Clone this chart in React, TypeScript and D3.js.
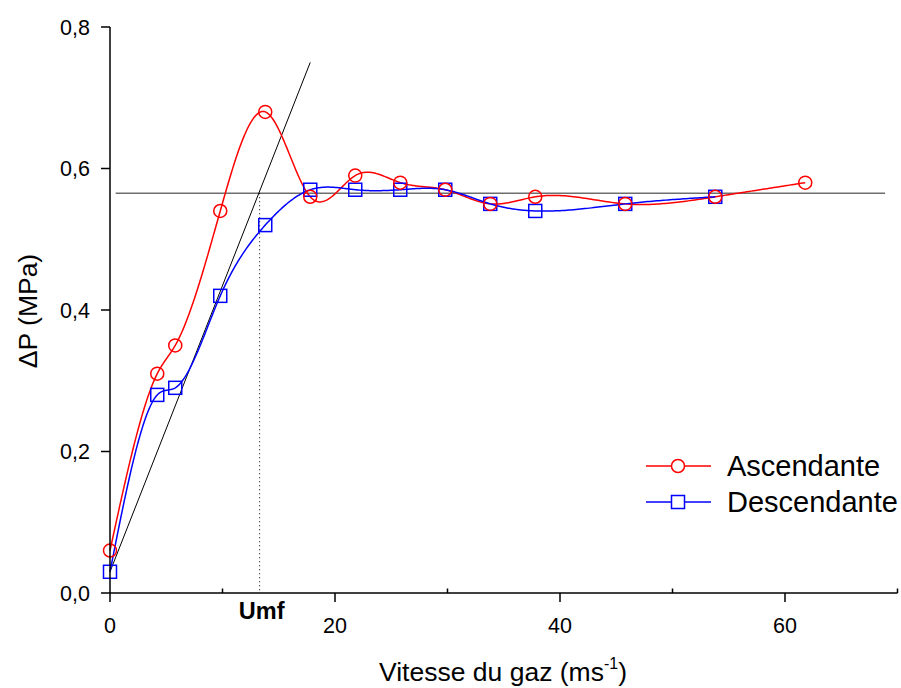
import React from 'react';
import * as d3 from 'd3';

const velocityAsc = [0, 4.2, 5.8, 9.8, 13.8, 17.8, 21.8, 25.8, 29.8, 33.8, 37.8, 45.8, 53.8, 61.8];
const ascendante = [0.06, 0.31, 0.35, 0.54, 0.68, 0.56, 0.59, 0.58, 0.57, 0.55, 0.56, 0.55, 0.56, 0.58];
const velocityDesc = [0, 4.2, 5.8, 9.8, 13.8, 17.8, 21.8, 25.8, 29.8, 33.8, 37.8, 45.8, 53.8];
const descendante = [0.03, 0.28, 0.29, 0.42, 0.52, 0.57, 0.57, 0.57, 0.57, 0.55, 0.54, 0.55, 0.56];

const xMajorTicks = [0, 20, 40, 60];
const xMinorTicks = [10, 30, 50, 70];
const yTicks = [0, 0.2, 0.4, 0.6, 0.8];
const yTickLabels = ['0,0', '0,2', '0,4', '0,6', '0,8'];

const plateauY = 0.565;
const plateauX = [0.5, 68.9];
const umfX = 13.3;
const tangentX = [0, 17.8];
const tangentY = [0.03, 0.75];

const legendLabels = ['Ascendante', 'Descendante'];

const W = 901;
const H = 688;
const FONT = "'Liberation Sans', Arial, Helvetica, sans-serif";

function naturalSpline(xs: number[], ys: number[]) {
  const n = xs.length;
  const h: number[] = [];
  for (let i = 0; i < n - 1; i++) h.push(xs[i + 1] - xs[i]);
  const a: number[] = new Array(n).fill(0);
  const b: number[] = new Array(n).fill(0);
  const c: number[] = new Array(n).fill(0);
  const r: number[] = new Array(n).fill(0);
  b[0] = 1; b[n - 1] = 1;
  for (let i = 1; i < n - 1; i++) {
    a[i] = h[i - 1];
    b[i] = 2 * (h[i - 1] + h[i]);
    c[i] = h[i];
    r[i] = 6 * ((ys[i + 1] - ys[i]) / h[i] - (ys[i] - ys[i - 1]) / h[i - 1]);
  }
  const cp = new Array(n).fill(0);
  const rp = new Array(n).fill(0);
  cp[0] = c[0] / b[0];
  rp[0] = r[0] / b[0];
  for (let i = 1; i < n; i++) {
    const m = b[i] - a[i] * cp[i - 1];
    cp[i] = c[i] / m;
    rp[i] = (r[i] - a[i] * rp[i - 1]) / m;
  }
  const M = new Array(n).fill(0);
  M[n - 1] = rp[n - 1];
  for (let i = n - 2; i >= 0; i--) M[i] = rp[i] - cp[i] * M[i + 1];
  const pts: [number, number][] = [];
  for (let i = 0; i < n - 1; i++) {
    const steps = 40;
    for (let s = 0; s < steps; s++) {
      const t = xs[i] + (h[i] * s) / steps;
      const A = (xs[i + 1] - t) / h[i];
      const B = (t - xs[i]) / h[i];
      const yv = A * ys[i] + B * ys[i + 1] + ((A * A * A - A) * M[i] + (B * B * B - B) * M[i + 1]) * (h[i] * h[i]) / 6;
      pts.push([t, yv]);
    }
  }
  pts.push([xs[n - 1], ys[n - 1]]);
  return pts;
}

export default function App() {
  const x = d3.scaleLinear().domain([0, 70]).range([110, 897.5]);
  const y = d3.scaleLinear().domain([0, 0.8]).range([593, 27]);
  const line = d3.line<[number, number]>().x(d => x(d[0])).y(d => y(d[1]));

  const ascPts = naturalSpline(velocityAsc, ascendante);
  const descPts = naturalSpline(velocityDesc, descendante);
  const red = '#ff0000';
  const blue = '#0000ff';
  const sq = 13;
  const cr = 6.5;

  return (
    <svg width={W} height={H} style={{ position: 'absolute', left: 0, top: 0, background: '#fff' }} fontFamily={FONT}>
      <rect x={0} y={0} width={W} height={H} fill="#fff" />
      <line x1={x(plateauX[0])} x2={x(plateauX[1])} y1={y(plateauY)} y2={y(plateauY)} stroke="#6e6e6e" strokeWidth={1.6} />
      <line x1={x(tangentX[0])} y1={y(tangentY[0])} x2={x(tangentX[1])} y2={y(tangentY[1])} stroke="#000" strokeWidth={1} />
      <line x1={x(umfX)} x2={x(umfX)} y1={y(plateauY)} y2={y(0)} stroke="#000" strokeWidth={1} strokeDasharray="1,3" />

      <path d={line(ascPts) || ''} fill="none" stroke={red} strokeWidth={1.5} />
      <path d={line(descPts) || ''} fill="none" stroke={blue} strokeWidth={1.5} />

      {velocityDesc.map((v, i) => (
        <rect key={'d' + i} x={x(v) - sq / 2} y={y(descendante[i]) - sq / 2} width={sq} height={sq} fill="none" stroke={blue} strokeWidth={1.5} />
      ))}
      {velocityAsc.map((v, i) => (
        <circle key={'a' + i} cx={x(v)} cy={y(ascendante[i])} r={cr} fill="none" stroke={red} strokeWidth={1.5} />
      ))}

      <line x1={x(0)} x2={x(70)} y1={y(0)} y2={y(0)} stroke="#000" strokeWidth={1.5} />
      <line x1={x(0)} x2={x(0)} y1={y(0.8)} y2={y(0)} stroke="#000" strokeWidth={1.5} />
      {xMajorTicks.map(t => (
        <g key={'xt' + t}>
          <line x1={x(t)} x2={x(t)} y1={y(0)} y2={y(0) + 9} stroke="#000" strokeWidth={1.5} />
          <text x={x(t)} y={633} textAnchor="middle" fontSize={21.5} fill="#000">{t}</text>
        </g>
      ))}
      {xMinorTicks.map(t => (
        <line key={'xm' + t} x1={x(t)} x2={x(t)} y1={y(0)} y2={y(0) - 4.5} stroke="#000" strokeWidth={1.5} />
      ))}
      {yTicks.map((t, i) => (
        <g key={'yt' + t}>
          <line x1={x(0) - 9} x2={x(0)} y1={y(t)} y2={y(t)} stroke="#000" strokeWidth={1.5} />
          <text x={90} y={y(t) + 7.5} textAnchor="end" fontSize={21.5} fill="#000">{yTickLabels[i]}</text>
        </g>
      ))}

      <text x={x(umfX) + 2} y={619} textAnchor="middle" fontSize={23.5} fontWeight="bold" fill="#000">Umf</text>

      <text x={503} y={681} textAnchor="middle" fontSize={26.5} fill="#000">
        Vitesse du gaz (ms<tspan fontSize={16} dy={-12}>-1</tspan><tspan dy={12}>)</tspan>
      </text>
      <text transform={`translate(37,311) rotate(-90)`} textAnchor="middle" fontSize={26.5} fill="#000">ΔP (MPa)</text>

      <g>
        <line x1={646} x2={711} y1={466} y2={466} stroke={red} strokeWidth={1.5} />
        <circle cx={678} cy={466} r={cr} fill="#fff" stroke={red} strokeWidth={1.5} />
        <text x={727} y={476} fontSize={29} fill="#000">{legendLabels[0]}</text>
        <line x1={646} x2={711} y1={502} y2={502} stroke={blue} strokeWidth={1.5} />
        <rect x={678 - sq / 2} y={502 - sq / 2} width={sq} height={sq} fill="#fff" stroke={blue} strokeWidth={1.5} />
        <text x={727} y={512} fontSize={29} fill="#000">{legendLabels[1]}</text>
      </g>
    </svg>
  );
}
